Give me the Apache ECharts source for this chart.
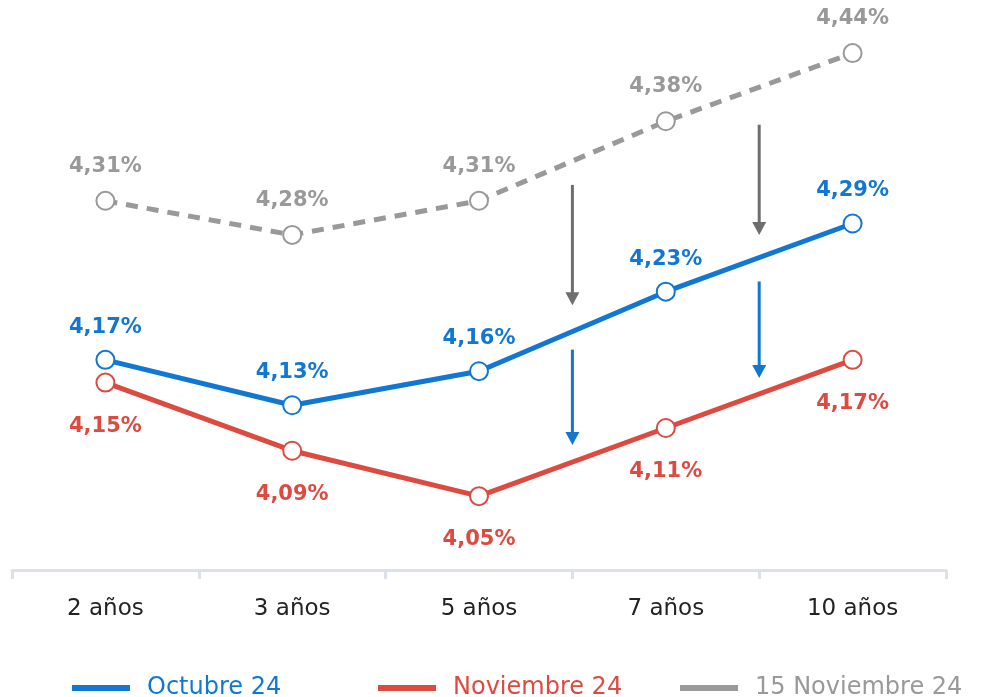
<!DOCTYPE html>
<html>
<head>
<meta charset="utf-8">
<script src="https://cdn.jsdelivr.net/npm/echarts@6/dist/echarts.min.js"></script>
<style>
  html, body { margin: 0; padding: 0; background: #fff; }
  #chart { width: 982px; height: 697px; }
</style>
</head>
<body>
<div id="chart"></div>
<script>
const categories = ['2 años', '3 años', '5 años', '7 años', '10 años']
const octubre = [4.17, 4.13, 4.16, 4.23, 4.29]
const noviembre = [4.15, 4.09, 4.05, 4.11, 4.17]
const quinceNov = [4.31, 4.28, 4.31, 4.38, 4.44]
const seriesNames = ['Octubre 24', 'Noviembre 24', '15 Noviembre 24']

// flechas: entre la categoría i y la i+1, de un valor a otro
const arrows = [
  { between: 2, from: 4.324, to: 4.218, color: '#6e6e6e' },
  { between: 2, from: 4.179, to: 4.095, color: '#1177d3' },
  { between: 3, from: 4.377, to: 4.280, color: '#6e6e6e' },
  { between: 3, from: 4.239, to: 4.154, color: '#1177d3' }
]

const BLUE = '#1177d3'
const RED = '#dd4a3f'
const GRAY = '#999999'
const FONT = 'DejaVu Sans'

const fmt = (p) => p.value.toFixed(2).replace('.', ',') + '%'

function lineSeries(name, data, color, pos, dist, dashed) {
  return {
    name: name,
    type: 'line',
    data: data,
    color: color,
    symbol: 'emptyCircle',
    symbolSize: 18,
    itemStyle: { borderWidth: 2.5 },
    lineStyle: { width: 5, type: dashed ? [12, 9] : 'solid' },
    label: {
      show: true,
      position: pos,
      distance: dist,
      formatter: fmt,
      color: color,
      fontFamily: FONT,
      fontWeight: 'bold',
      fontSize: 21
    },
    emphasis: { disabled: true }
  }
}

// una leyenda por serie para poder colocarlas como en el original
function legendItem(name, color, left) {
  return {
    left: left,
    top: 676,
    padding: 0,
    icon: 'rect',
    itemWidth: 58,
    itemHeight: 6,
    selectedMode: false,
    textStyle: { fontFamily: FONT, fontSize: 24, color: color, padding: [0, 0, 0, 12] },
    data: [name]
  }
}

const chart = echarts.init(document.getElementById('chart'))

chart.setOption({
  animation: false,
  grid: { left: 12, right: 36, top: 2, bottom: 127 },
  xAxis: {
    type: 'category',
    data: categories,
    axisLine: { lineStyle: { color: '#dce1e9', width: 3 } },
    axisTick: { show: true, length: 9, lineStyle: { color: '#dce1e9', width: 3 } },
    axisLabel: { color: '#222', fontFamily: FONT, fontSize: 23, margin: 28 }
  },
  yAxis: {
    type: 'value',
    min: 3.985,
    max: 4.485,
    show: false
  },
  legend: [
    legendItem(seriesNames[0], BLUE, 72),
    legendItem(seriesNames[1], RED, 378),
    legendItem(seriesNames[2], GRAY, 680)
  ],
  series: [
    lineSeries(seriesNames[2], quinceNov, GRAY, 'top', 14, true),
    lineSeries(seriesNames[1], noviembre, RED, 'bottom', 23, false),
    lineSeries(seriesNames[0], octubre, BLUE, 'top', 12, false)
  ]
})

// flechas dibujadas con las escalas de los ejes
const elements = []
arrows.forEach((a) => {
  const x1 = chart.convertToPixel({ xAxisIndex: 0 }, categories[a.between])
  const x2 = chart.convertToPixel({ xAxisIndex: 0 }, categories[a.between + 1])
  const x = (x1 + x2) / 2
  const y1 = chart.convertToPixel({ yAxisIndex: 0 }, a.from)
  const y2 = chart.convertToPixel({ yAxisIndex: 0 }, a.to)
  elements.push({
    type: 'line',
    shape: { x1: x, y1: y1, x2: x, y2: y2 - 10 },
    style: { stroke: a.color, lineWidth: 3 },
    silent: true
  })
  elements.push({
    type: 'polygon',
    shape: { points: [[x - 7, y2 - 13], [x + 7, y2 - 13], [x, y2]] },
    style: { fill: a.color },
    silent: true
  })
})
chart.setOption({ graphic: { elements: elements } })

window.addEventListener('resize', () => {
  chart.resize()
})
</script>
</body>
</html>
